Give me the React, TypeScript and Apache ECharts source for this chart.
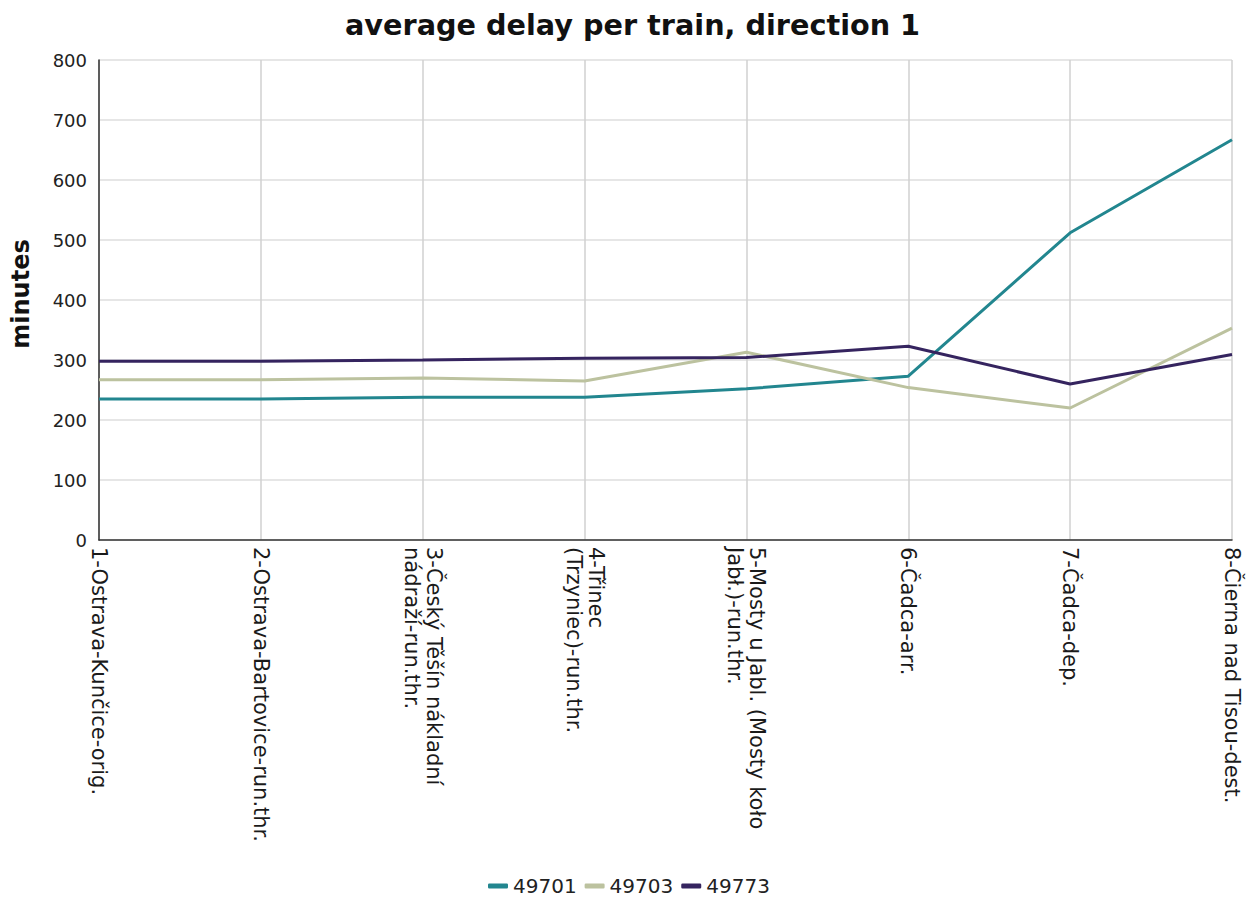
import React, { useEffect, useRef } from "react";
import * as echarts from "echarts";

const categories = [
  "1-Ostrava-Kunčice-orig.",
  "2-Ostrava-Bartovice-run.thr.",
  "3-Český Těšín nákladní\nnádraží-run.thr.",
  "4-Třinec\n(Trzyniec)-run.thr.",
  "5-Mosty u Jabl. (Mosty koło\nJabł.)-run.thr.",
  "6-Čadca-arr.",
  "7-Čadca-dep.",
  "8-Čierna nad Tisou-dest.",
];

const seriesNames = ["49701", "49703", "49773"];
const s49701 = [235, 235, 238, 238, 252, 273, 512, 667];
const s49703 = [267, 267, 270, 265, 313, 254, 220, 353];
const s49773 = [298, 298, 300, 303, 304, 323, 260, 309];
const colors = ["#22868f", "#bcc29f", "#35245f"];

const FONT = "DejaVu Sans";

export default function App() {
  const ref = useRef<HTMLDivElement>(null);
  useEffect(() => {
    if (!ref.current) return;
    const chart = echarts.init(ref.current, undefined, { renderer: "svg" });
    const data = [s49701, s49703, s49773];
    chart.setOption({
      animation: false,
      textStyle: { fontFamily: FONT },
      title: {
        text: "average delay per train, direction 1",
        left: 340,
        top: 5,
        textStyle: { fontFamily: FONT, fontSize: 28.7, fontWeight: "bold", color: "#111" },
      },
      legend: {
        top: 871,
        left: 483,
        icon: "roundRect",
        itemWidth: 20,
        itemHeight: 5,
        itemGap: 8,
        textStyle: { fontFamily: FONT, fontSize: 20, color: "#222" },
        data: seriesNames,
      },
      grid: { left: 99, right: 17, top: 60, bottom: 358, containLabel: false },
      xAxis: {
        type: "category",
        data: categories,
        boundaryGap: false,
        axisLine: { show: true, lineStyle: { color: "#333", width: 1.5 } },
        axisTick: { show: false },
        axisLabel: {
          rotate: -90,
          interval: 0,
          fontFamily: FONT,
          fontSize: 21,
          color: "#1a1a1a",
          lineHeight: 22,
          margin: 7,
        },
        splitLine: { show: true, lineStyle: { color: "#d0d0d0", width: 1.5 } },
      },
      yAxis: {
        type: "value",
        min: 0,
        max: 800,
        interval: 100,
        name: "minutes",
        nameLocation: "middle",
        nameGap: 66,
        nameTextStyle: {
          fontFamily: FONT,
          fontSize: 24,
          fontWeight: "bold",
          color: "#111",
          padding: [0, 0, 0, 12],
        },
        axisLine: { show: true, lineStyle: { color: "#333", width: 1.5 } },
        axisTick: { show: false },
        axisLabel: { fontFamily: FONT, fontSize: 18, color: "#222", margin: 12 },
        splitLine: { show: true, lineStyle: { color: "#dedede", width: 1.5 } },
      },
      series: seriesNames.map((n, i) => ({
        name: n,
        type: "line",
        data: data[i],
        showSymbol: false,
        symbol: "none",
        lineStyle: { width: 3, color: colors[i] },
        itemStyle: { color: colors[i] },
      })),
    });
    return () => chart.dispose();
  }, []);
  return (
    <div
      ref={ref}
      style={{ position: "fixed", left: 0, top: 0, width: 1249, height: 898, background: "#fff" }}
    />
  );
}
